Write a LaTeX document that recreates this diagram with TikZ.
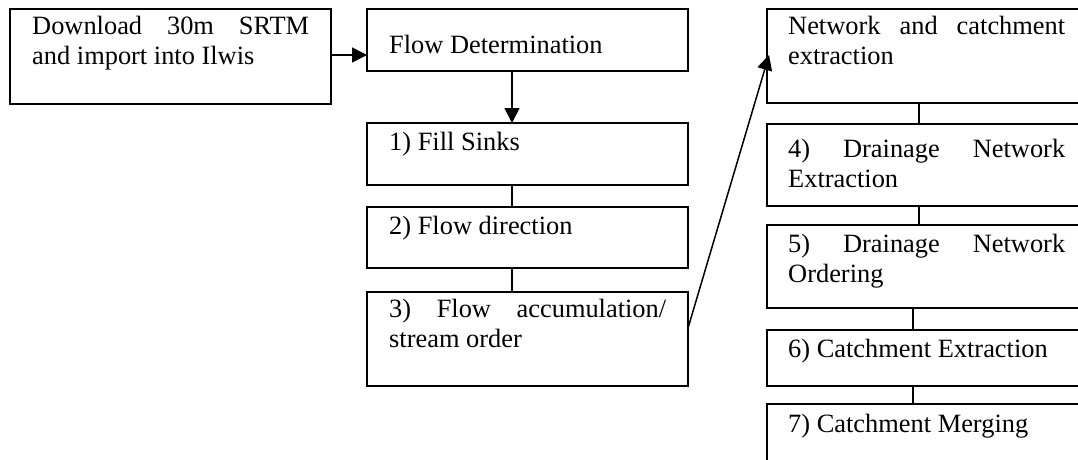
\documentclass[tikz,border=0pt]{standalone}
\usepackage{fontspec}
\setmainfont{Liberation Serif}
\usetikzlibrary{arrows.meta}
\hyphenpenalty=10000\relax
\exhyphenpenalty=10000\relax
\tolerance=10000\relax
\tikzset{
  box/.style={draw, line width=1.6pt, inner sep=0pt, outer sep=0pt, anchor=north west, minimum width=321pt},
  txt/.style={anchor=north west, inner sep=0pt, text width=277pt, align=justify,
    font=\fontsize{26.4}{30}\selectfont},
  conn/.style={line width=1.5pt},
  arr/.style={line width=1.5pt, -{Triangle[length=15pt,width=15pt]}}
}
\begin{document}
\begin{tikzpicture}[x=1pt,y=-1pt]
\useasboundingbox (0,0) rectangle (1078,459);
\clip (0,0) rectangle (1078,459);
% left column
\node[box, minimum height=95pt] (b1) at (10,9) {};
\node[box, minimum height=62pt] (b2) at (367,9) {};
\node[box, minimum height=62pt] (b3) at (367,123) {};
\node[box, minimum height=61pt] (b4) at (367,207) {};
\node[box, minimum height=94pt] (b5) at (367,292) {};
% right column
\node[box, minimum height=94pt] (n0) at (767,9) {};
\node[box, minimum height=82pt] (n4) at (767,124) {};
\node[box, minimum height=83pt] (n5) at (767,225) {};
\node[box, minimum height=56pt] (n6) at (767,330) {};
\node[box, minimum height=80pt] (n7) at (767,404) {};
% texts
\node[txt] (t1) at ([xshift=22pt,yshift=-4pt]b1.north west) {\strut Download 30m SRTM and import into Ilwis};
\node[txt] (t2) at ([xshift=22pt,yshift=-23pt]b2.north west) {\strut Flow Determination};
\node[txt] (t3) at ([xshift=22pt,yshift=-6pt]b3.north west) {\strut 1) Fill Sinks};
\node[txt] (t4) at ([xshift=22pt,yshift=-6pt]b4.north west) {\strut 2) Flow direction};
\node[txt] (t5) at ([xshift=22pt,yshift=-4pt]b5.north west) {\strut 3) Flow accumulation/ stream order};
\node[txt] (u0) at ([xshift=21pt,yshift=-4pt]n0.north west) {\strut Network and catchment extraction};
\node[txt] (u4) at ([xshift=21pt,yshift=-12pt]n4.north west) {\strut 4) Drainage Network Extraction};
\node[txt] (u5) at ([xshift=21pt,yshift=-6pt]n5.north west) {\strut 5) Drainage Network Ordering};
\node[txt] (u6) at ([xshift=21pt,yshift=-6pt]n6.north west) {\strut 6) Catchment Extraction};
\node[txt] (u7) at ([xshift=21pt,yshift=-7pt]n7.north west) {\strut 7) Catchment Merging};
% connectors
\draw[arr] ([yshift=1.5pt]b1.east) -- ([yshift=1.5pt]b1.east -| b2.west);
\draw[arr] ([xshift=-15.5pt]b2.south) -- ([xshift=-15.5pt]b3.north);
\draw[conn] ([xshift=-15.5pt]b3.south) -- ([xshift=-15.5pt]b4.north);
\draw[conn] ([xshift=-15.5pt]b4.south) -- ([xshift=-15.5pt]b5.north);
\draw[arr] ([yshift=11pt]b5.east) -- ([xshift=2pt,yshift=1pt]n0.west);
\draw[conn] ([xshift=-8.5pt]n0.south) -- ([xshift=-8.5pt]n4.north);
\draw[conn] ([xshift=-8.5pt]n4.south) -- ([xshift=-8.5pt]n5.north);
\draw[conn] ([xshift=-14.5pt]n5.south) -- ([xshift=-14.5pt]n6.north);
\draw[conn] ([xshift=-14.5pt]n6.south) -- ([xshift=-14.5pt]n7.north);
\end{tikzpicture}
\end{document}
